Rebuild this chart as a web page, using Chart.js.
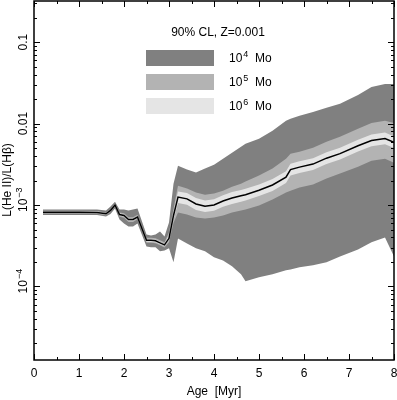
<!DOCTYPE html>
<html lang="en">
<head>
  <meta charset="UTF-8">
  <title>He II / Hbeta vs age</title>
  <style>
    body { margin: 0; background: #fff; }
    #c { display: block; }
  </style>
</head>
<body>
  <canvas id="c" width="397" height="400"></canvas>

  <script src="https://cdn.jsdelivr.net/npm/chart.js@4.4.1/dist/chart.umd.min.js"></script>
  <script>
    // ages in Myr
    const ages = [0.2, 0.6, 1.0, 1.4, 1.6, 1.7, 1.8, 1.9, 2.0, 2.1, 2.2, 2.3, 2.5, 2.6, 2.7, 2.8, 2.9, 3.0, 3.1, 3.2,
      3.4, 3.6, 3.8, 4.0, 4.2, 4.4, 4.6, 4.7, 5.0, 5.3, 5.6, 5.7, 5.9, 6.2, 6.5, 6.8, 7.2, 7.5, 7.8, 8.0];

    // median L(HeII)/L(Hb)
    const median = [8.16e-4, 8.16e-4, 8.14e-4, 8.09e-4, 7.80e-4, 8.57e-4, 1.0e-3, 7.65e-4, 7.44e-4, 6.65e-4,
      6.65e-4, 7.13e-4, 3.68e-4, 3.68e-4, 3.63e-4, 3.43e-4, 3.24e-4, 3.9e-4, 7.44e-4, 1.25e-3,
      1.19e-3, 1.03e-3, 9.67e-4, 1.0e-3, 1.12e-3, 1.22e-3, 1.30e-3, 1.34e-3, 1.52e-3, 1.76e-3,
      2.20e-3, 2.72e-3, 2.92e-3, 3.18e-3, 3.76e-3, 4.27e-3, 5.35e-3, 6.20e-3, 6.57e-3, 5.90e-3];

    // 90% CL, 10^4 Mo clusters
    const hi4 = [8.81e-4, 8.81e-4, 8.81e-4, 8.81e-4, 8.57e-4, 9.6e-4, 1.10e-3, 8.81e-4, 8.81e-4, 8.57e-4,
      8.81e-4, 9.06e-4, 4.35e-4, 4.23e-4, 4.35e-4, 4.74e-4, 4.11e-4, 6.11e-4, 1.83e-3, 3.04e-3,
      2.72e-3, 2.50e-3, 2.80e-3, 3.13e-3, 3.71e-3, 4.39e-3, 5.20e-3, 5.66e-3, 6.52e-3, 8.17e-3,
      1.08e-2, 1.145e-2, 1.25e-2, 1.39e-2, 1.56e-2, 1.75e-2, 2.25e-2, 2.82e-2, 3.07e-2, 3.07e-2];
    const lo4 = [7.54e-4, 7.54e-4, 7.54e-4, 7.54e-4, 7.24e-4, 7.76e-4, 9.06e-4, 6.65e-4, 5.94e-4, 5.45e-4,
      5.45e-4, 5.94e-4, 3.10e-4, 3.02e-4, 3.02e-4, 2.70e-4, 2.77e-4, 2.94e-4, 1.98e-4, 3.89e-4,
      3.38e-4, 2.94e-4, 2.70e-4, 2.28e-4, 2.09e-4, 1.77e-4, 1.41e-4, 1.16e-4, 1.30e-4, 1.41e-4,
      1.58e-4, 1.62e-4, 1.72e-4, 1.82e-4, 1.98e-4, 2.34e-4, 2.85e-4, 3.48e-4, 4.0e-4, 2.34e-4];

    // 10^5 Mo
    const hi5 = [8.5e-4, 8.5e-4, 8.5e-4, 8.45e-4, 8.1e-4, 8.9e-4, 1.04e-3, 8.1e-4, 7.9e-4, 7.1e-4,
      7.1e-4, 7.6e-4, 3.95e-4, 3.95e-4, 3.9e-4, 3.7e-4, 3.5e-4, 4.6e-4, 9.0e-4, 1.73e-3,
      1.59e-3, 1.42e-3, 1.34e-3, 1.38e-3, 1.50e-3, 1.68e-3, 1.83e-3, 1.94e-3, 2.30e-3, 2.80e-3,
      3.71e-3, 4.27e-3, 4.52e-3, 5.06e-3, 5.99e-3, 6.89e-3, 8.64e-3, 1.02e-2, 1.08e-2, 1.02e-2];
    const lo5 = [7.85e-4, 7.85e-4, 7.85e-4, 7.8e-4, 7.5e-4, 8.25e-4, 9.6e-4, 7.2e-4, 7.0e-4, 6.2e-4,
      6.2e-4, 6.7e-4, 3.45e-4, 3.45e-4, 3.4e-4, 3.2e-4, 3.0e-4, 3.5e-4, 6.0e-4, 8.09e-4,
      7.65e-4, 7.03e-4, 6.84e-4, 7.03e-4, 7.44e-4, 8.09e-4, 8.57e-4, 8.81e-4, 9.86e-4, 1.17e-3,
      1.42e-3, 1.50e-3, 1.64e-3, 1.78e-3, 2.11e-3, 2.43e-3, 2.96e-3, 3.50e-3, 3.71e-3, 3.31e-3];

    // 10^6 Mo
    const hi6 = [8.35e-4, 8.35e-4, 8.35e-4, 8.3e-4, 7.95e-4, 8.75e-4, 1.02e-3, 7.85e-4, 7.65e-4, 6.85e-4,
      6.85e-4, 7.35e-4, 3.8e-4, 3.8e-4, 3.75e-4, 3.55e-4, 3.35e-4, 4.3e-4, 8.3e-4, 1.47e-3,
      1.40e-3, 1.22e-3, 1.14e-3, 1.18e-3, 1.32e-3, 1.44e-3, 1.53e-3, 1.58e-3, 1.79e-3, 2.08e-3,
      2.60e-3, 3.21e-3, 3.45e-3, 3.75e-3, 4.44e-3, 5.04e-3, 6.31e-3, 7.32e-3, 7.75e-3, 6.96e-3];
    const lo6 = [7.98e-4, 7.98e-4, 7.98e-4, 7.9e-4, 7.65e-4, 8.4e-4, 9.8e-4, 7.45e-4, 7.25e-4, 6.45e-4,
      6.45e-4, 6.9e-4, 3.55e-4, 3.55e-4, 3.5e-4, 3.3e-4, 3.13e-4, 3.7e-4, 6.6e-4, 1.06e-3,
      1.01e-3, 8.7e-4, 8.2e-4, 8.5e-4, 9.5e-4, 1.03e-3, 1.10e-3, 1.14e-3, 1.29e-3, 1.49e-3,
      1.86e-3, 2.31e-3, 2.47e-3, 2.69e-3, 3.19e-3, 3.62e-3, 4.53e-3, 5.25e-3, 5.57e-3, 5.00e-3];

    // axis ticks
    const xTicks = [0, 1, 2, 3, 4, 5, 6, 7, 8];
    const yTicks = [0.1, 0.01, 1e-3, 1e-4];
    const yTickLabels = [['0.1'], ['0.01'], ['10', '\u22123'], ['10', '\u22124']];

    const legendItems = [
      { exp: '4', color: '#808080' },
      { exp: '5', color: '#b3b3b3' },
      { exp: '6', color: '#e5e5e5' }
    ];

    const FONT = '"Liberation Sans", Arial, sans-serif';
    const pts = arr => ages.map((a, i) => ({ x: a, y: arr[i] }));
    const none = 'rgba(0,0,0,0)';

    // text with an optional superscript part: [base, sup, tail]
    function supText(ctx, parts, x, y, size) {
      const f0 = size + 'px ' + FONT, f1 = Math.round(size * 0.75) + 'px ' + FONT;
      ctx.font = f0;
      let w = ctx.measureText(parts[0]).width;
      ctx.font = f1;
      const ws = parts[1] ? ctx.measureText(parts[1]).width + 1 : 0;
      ctx.font = f0;
      const wt = parts[2] ? ctx.measureText(parts[2]).width : 0;
      return {
        width: w + ws + wt,
        draw(x0) {
          ctx.font = f0;
          ctx.fillText(parts[0], x0, y);
          if (parts[1]) {
            ctx.font = f1;
            ctx.fillText(parts[1], x0 + w + 1, y - size * 0.42);
          }
          if (parts[2]) {
            ctx.font = f0;
            ctx.fillText(parts[2], x0 + w + ws, y);
          }
        }
      };
    }

    const decor = {
      id: 'decor',
      afterDraw(chart) {
        const { ctx, chartArea: a, scales: { x, y } } = chart;
        ctx.save();
        ctx.strokeStyle = '#000';
        ctx.fillStyle = '#000';
        ctx.lineWidth = 1.5;
        ctx.strokeRect(a.left, a.top, a.right - a.left, a.bottom - a.top);

        ctx.lineWidth = 1;
        ctx.beginPath();
        // x ticks, inward, bottom and top
        for (let v = 0; v <= 8; v += 0.5) {
          const px = Math.round(x.getPixelForValue(v)) + 0.5;
          const len = v % 1 === 0 ? 6 : 3;
          ctx.moveTo(px, a.bottom); ctx.lineTo(px, a.bottom - len);
          ctx.moveTo(px, a.top); ctx.lineTo(px, a.top + len);
        }
        // log y ticks, left and right
        for (let e = -5; e <= 0; e++) {
          for (let m = 1; m <= 9; m++) {
            const v = m * Math.pow(10, e);
            if (v < y.min || v > y.max) continue;
            const py = Math.round(y.getPixelForValue(v)) + 0.5;
            const len = m === 1 ? 6 : 3;
            ctx.moveTo(a.left, py); ctx.lineTo(a.left + len, py);
            ctx.moveTo(a.right, py); ctx.lineTo(a.right - len, py);
          }
        }
        ctx.stroke();

        // x tick labels
        ctx.font = '12px ' + FONT;
        ctx.textAlign = 'center';
        ctx.textBaseline = 'alphabetic';
        xTicks.forEach(v => ctx.fillText(String(v), x.getPixelForValue(v), 377));
        ctx.fillText('Age  [Myr]', (a.left + a.right) / 2, 395);

        // y tick labels, rotated
        ctx.textAlign = 'left';
        yTicks.forEach((v, i) => {
          const py = y.getPixelForValue(v);
          ctx.save();
          ctx.translate(27, py);
          ctx.rotate(-Math.PI / 2);
          const t = supText(ctx, yTickLabels[i], 0, 0, 12);
          const shift = yTickLabels[i][1] ? 7 : t.width / 2;
          t.draw(-shift);
          ctx.restore();
        });

        // y title
        ctx.save();
        ctx.translate(11, 180);
        ctx.rotate(-Math.PI / 2);
        ctx.font = '12px ' + FONT;
        ctx.textAlign = 'center';
        ctx.fillText('L(He II)/L(H\u03b2)', 0, 0);
        ctx.restore();

        // legend
        ctx.textAlign = 'center';
        ctx.font = '12px ' + FONT;
        ctx.fillText('90% CL, Z=0.001', 218, 36);
        ctx.textAlign = 'left';
        legendItems.forEach((it, i) => {
          const top = 50 + i * 24;
          ctx.fillStyle = it.color;
          ctx.fillRect(146, top, 68, 16);
          ctx.fillStyle = '#000';
          supText(ctx, ['10', it.exp, '  Mo'], 0, top + 12, 12).draw(229);
        });
        ctx.restore();
      }
    };

    const bandStyle = { pointRadius: 0, borderWidth: 1, borderColor: none, tension: 0 };

    new Chart(document.getElementById('c'), {
      type: 'line',
      data: {
        datasets: [
          { label: 'median', data: pts(median), pointRadius: 0, borderColor: '#000', borderWidth: 1.5, fill: false, order: 0 },
          { label: 'hi6', data: pts(hi6), ...bandStyle, fill: false, order: 1 },
          { label: 'lo6', data: pts(lo6), ...bandStyle, fill: '-1', backgroundColor: '#e5e5e5', order: 1 },
          { label: 'hi5', data: pts(hi5), ...bandStyle, fill: false, order: 2 },
          { label: 'lo5', data: pts(lo5), ...bandStyle, fill: '-1', backgroundColor: '#b3b3b3', order: 2 },
          { label: 'hi4', data: pts(hi4), ...bandStyle, fill: false, order: 3 },
          { label: 'lo4', data: pts(lo4), ...bandStyle, fill: '-1', backgroundColor: '#808080', order: 3 }
        ]
      },
      options: {
        responsive: false,
        animation: false,
        layout: { padding: { top: 1, right: 3, left: 0, bottom: 0 } },
        plugins: { legend: { display: false }, tooltip: { enabled: false } },
        scales: {
          x: {
            type: 'linear', min: 0, max: 8,
            grid: { display: false }, border: { display: false },
            ticks: { display: false },
            afterFit: s => { s.height = 40; }
          },
          y: {
            type: 'logarithmic', min: 1.25e-5, max: 0.32,
            grid: { display: false }, border: { display: false },
            ticks: { display: false },
            afterFit: s => { s.width = 34; }
          }
        }
      },
      plugins: [decor]
    });
  </script>
</body>
</html>
